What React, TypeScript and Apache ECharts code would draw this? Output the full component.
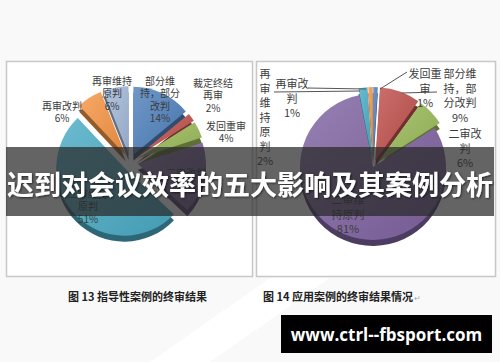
import React, { useEffect, useRef } from "react";
import * as echarts from "echarts";

// ---- Data ----
const leftNames = ["部分维持，部分改判", "裁定终结再审", "发回重审", "二审改判", "二审维持原判", "再审改判", "再审维持原判"];
const leftLabelText = ["部分维\n持，部分\n改判", "裁定终结\n再审", "发回重审", "二审改判", "二审维持\n原判", "再审改判", "再审维持\n原判"];
const leftValues = [14, 2, 4, 17, 51, 6, 6];

const rightNames = ["发回重审", "部分维持，部分改判", "二审改判", "二审维持原判", "再审维持原判", "再审改判"];
const rightLabelText = ["发回重\n审", "部分维\n持，部\n分改判", "二审改\n判", "二审维\n持原判", "再\n审\n维\n持\n原\n判", "再审改\n判"];
const rightValues = [1, 9, 6, 81, 2, 1];
const rightExploded = [true, true, true, false, true, true];

const titleText = "迟到对会议效率的五大影响及其案例分析";
const leftCaption = "图 13 指导性案例的终审结果";
const rightCaption = "图 14 应用案例的终审结果情况";
const siteText = "www.ctrl--fbsport.com";

// ---- Styles / layout ----
const leftColors = ["#4F81BD", "#C0504D", "#9BBB59", "#8064A2", "#4BACC6", "#F79646", "#A3B9DA"];
const rightColors = ["#4F81BD", "#C0504D", "#9BBB59", "#8064A2", "#4BACC6", "#F79646"];

const leftLabelPos: number[][] = [
  [160, 74], [213, 76], [226, 119], [186, 166], [88, 187], [62, 99], [112, 74],
];
const rightLabelPos: number[][] = [
  [425, 66], [460, 66], [465, 126], [348, 192], [265, 66], [292, 76],
];
const rightLines: (number[][] | null)[] = [
  [[407, 72], [380, 89]],
  [[437, 92], [402, 93]],
  null,
  null,
  [[274, 92], [360, 91]],
  [[308, 88], [366, 89]],
];

function darken(hex: string, f: number): string {
  const n = parseInt(hex.slice(1), 16);
  const r = Math.round(((n >> 16) & 255) * f);
  const g = Math.round(((n >> 8) & 255) * f);
  const b = Math.round((n & 255) * f);
  return `rgb(${r},${g},${b})`;
}
function lighten(hex: string, f: number): string {
  const n = parseInt(hex.slice(1), 16);
  const c = [(n >> 16) & 255, (n >> 8) & 255, n & 255].map((v) => Math.round(v + (255 - v) * f));
  return `rgb(${c[0]},${c[1]},${c[2]})`;
}

const cjk = "'Noto Sans CJK SC', 'Noto Sans', sans-serif";

export default function App() {
  const ref = useRef<HTMLDivElement>(null);
  useEffect(() => {
    if (!ref.current) return;
    const chart = echarts.init(ref.current, undefined, { renderer: "svg" });

    const leftCenter = [130, 162];
    const leftR = 68;
    const rightCenter = [373, 167];
    const rightR = 73;
    const depth = 6;

    const mkTop = (names: string[], values: number[], colors: string[], sel: boolean[]) =>
      names.map((n, i) => ({
        name: n,
        value: values[i],
        selected: sel[i],
        itemStyle: {
          color: new echarts.graphic.LinearGradient(0, 0, 1, 1, [
            { offset: 0, color: lighten(colors[i], 0.18) },
            { offset: 1, color: darken(colors[i], 0.9) },
          ]),
        },
      }));
    const mkSide = (names: string[], values: number[], colors: string[], sel: boolean[]) =>
      names.map((n, i) => ({
        name: n,
        value: values[i],
        selected: sel[i],
        itemStyle: { color: darken(colors[i], 0.6) },
      }));

    const leftSel = leftValues.map(() => true);

    const labelGraphics: any[] = [];
    leftLabelText.forEach((t, i) => {
      labelGraphics.push({
        type: "text", z: 50, x: leftLabelPos[i][0], y: leftLabelPos[i][1],
        style: {
          text: t + "\n" + leftValues[i] + "%", fill: "#3c3c3c", fontSize: 10, lineHeight: 12.5,
          fontFamily: cjk, align: "center", verticalAlign: "top",
        },
      });
    });
    rightLabelText.forEach((t, i) => {
      labelGraphics.push({
        type: "text", z: 50, x: rightLabelPos[i][0], y: rightLabelPos[i][1],
        style: {
          text: t + "\n" + rightValues[i] + "%", fill: "#3c3c3c", fontSize: 11, lineHeight: 14.5,
          fontFamily: cjk, align: "center", verticalAlign: "top",
        },
      });
      const ln = rightLines[i];
      if (ln) {
        labelGraphics.push({
          type: "line", z: 49,
          shape: { x1: ln[0][0], y1: ln[0][1], x2: ln[1][0], y2: ln[1][1] },
          style: { stroke: "#555", lineWidth: 1 },
        });
      }
    });

    chart.setOption({
      animation: false,
      backgroundColor: "#f9f9f9",
      graphic: [
        { type: "polygon", z: -5, shape: { points: [[150, 362], [270, 278], [330, 278], [210, 362]] }, style: { fill: "#ffffff" } },
        { type: "rect", z: -4, shape: { x: 6.5, y: 61.5, width: 246, height: 215 }, style: { fill: "#ffffff", stroke: "#c8c8c8", lineWidth: 1.5 } },
        { type: "rect", z: -4, shape: { x: 256.5, y: 61.5, width: 239, height: 215 }, style: { fill: "#ffffff", stroke: "#c8c8c8", lineWidth: 1.5 } },
        ...labelGraphics,
        { type: "rect", z: 100, shape: { x: 6, y: 147, width: 488, height: 69 }, style: { fill: "rgba(40,40,40,0.72)" } },
        {
          type: "text", z: 101, x: 250, y: 183,
          style: {
            text: titleText, fill: "#ffffff", fontSize: 27, fontWeight: "bold", fontFamily: cjk,
            align: "center", verticalAlign: "middle",
            textShadowColor: "rgba(0,0,0,0.6)", textShadowBlur: 2, textShadowOffsetX: 1, textShadowOffsetY: 1,
          },
        },
        { type: "text", z: 10, x: 68, y: 296, style: { text: leftCaption, fill: "#222", fontSize: 11, fontWeight: "bold", fontFamily: cjk, align: "left", verticalAlign: "middle" } },
        { type: "text", z: 10, x: 263, y: 296, style: { text: rightCaption, fill: "#222", fontSize: 11, fontWeight: "bold", fontFamily: cjk, align: "left", verticalAlign: "middle" } },
        { type: "text", z: 10, x: 414, y: 297, style: { text: "↵", fill: "#aaa", fontSize: 8, fontFamily: cjk, align: "left", verticalAlign: "middle" } },
        { type: "rect", z: 100, shape: { x: 281, y: 315, width: 211, height: 38 }, style: { fill: "#000000" } },
        { type: "text", z: 101, x: 386.5, y: 334, style: { text: siteText, fill: "#ffffff", fontSize: 17, fontWeight: "bold", fontFamily: "'Open Sans', 'DejaVu Sans', sans-serif", align: "center", verticalAlign: "middle" } },
      ],
      series: [
        {
          type: "pie", z: 1, silent: true, selectedMode: "multiple", selectedOffset: 8,
          center: [leftCenter[0], leftCenter[1] + depth], radius: leftR, startAngle: 90,
          label: { show: false }, labelLine: { show: false }, emphasis: { disabled: true },
          data: mkSide(leftNames, leftValues, leftColors, leftSel),
        },
        {
          type: "pie", z: 2, silent: true, selectedMode: "multiple", selectedOffset: 8,
          center: leftCenter, radius: leftR, startAngle: 90,
          label: { show: false }, labelLine: { show: false }, emphasis: { disabled: true },
          data: mkTop(leftNames, leftValues, leftColors, leftSel),
        },
        {
          type: "pie", z: 1, silent: true, selectedMode: "multiple", selectedOffset: 7,
          center: [rightCenter[0], rightCenter[1] + depth], radius: rightR, startAngle: 90,
          label: { show: false }, labelLine: { show: false }, emphasis: { disabled: true },
          data: mkSide(rightNames, rightValues, rightColors, rightExploded),
        },
        {
          type: "pie", z: 2, silent: true, selectedMode: "multiple", selectedOffset: 7,
          center: rightCenter, radius: rightR, startAngle: 90,
          label: { show: false }, labelLine: { show: false }, emphasis: { disabled: true },
          data: mkTop(rightNames, rightValues, rightColors, rightExploded),
        },
      ],
    });
    return () => chart.dispose();
  }, []);
  return <div ref={ref} style={{ width: 500, height: 362, position: "absolute", left: 0, top: 0 }} />;
}
